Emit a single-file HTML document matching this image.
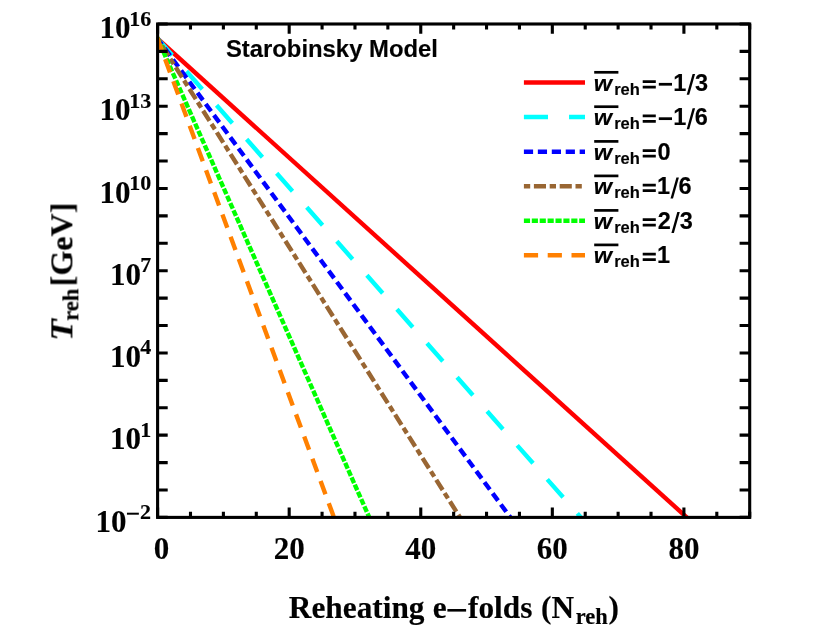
<!DOCTYPE html>
<html><head><meta charset="utf-8"><title>Starobinsky Model</title>
<style>html,body{margin:0;padding:0;background:#fff;}svg{display:block;}text{font-family:"Liberation Serif",serif;font-weight:bold;fill:#000;stroke:#000;stroke-width:0.15px;}.s{font-family:"Liberation Sans",sans-serif;font-weight:bold;}</style></head><body>
<svg width="830" height="639" viewBox="0 0 830 639">
<rect x="0" y="0" width="830" height="639" fill="#ffffff"/>
<clipPath id="cp"><rect x="156.10" y="24.00" width="593.60" height="493.40"/></clipPath>
<g clip-path="url(#cp)" fill="none" stroke-width="4.40">
<path d="M156.27 37.43L697.35 526.98" stroke="#ff0000"/>
<path d="M156.41 37.29L589.40 526.98" stroke="#00ffff" stroke-dasharray="23.9 21.49"/>
<path d="M156.53 37.19L517.43 526.98" stroke="#0000ff" stroke-dasharray="9.1 4.72"/>
<path d="M156.64 37.12L466.03 526.98" stroke="#996633" stroke-dasharray="6.3 3.7 12 3.68"/>
<path d="M156.87 36.99L373.50 526.98" stroke="#00ff00" stroke-dasharray="6.15 1.744"/>
<path d="M156.98 36.95L337.52 526.98" stroke="#ff8000" stroke-dasharray="14.1 9.56"/>
</g>
<g stroke="#000" stroke-width="3.10" fill="none">
<rect x="157.60" y="24.00" width="592.10" height="493.40"/>
<path d="M157.60 517.40v-9.80M157.60 24.00v9.80M190.49 517.40v-5.60M190.49 24.00v5.60M223.39 517.40v-5.60M223.39 24.00v5.60M256.28 517.40v-5.60M256.28 24.00v5.60M289.18 517.40v-9.80M289.18 24.00v9.80M322.07 517.40v-5.60M322.07 24.00v5.60M354.97 517.40v-5.60M354.97 24.00v5.60M387.86 517.40v-5.60M387.86 24.00v5.60M420.76 517.40v-9.80M420.76 24.00v9.80M453.65 517.40v-5.60M453.65 24.00v5.60M486.54 517.40v-5.60M486.54 24.00v5.60M519.44 517.40v-5.60M519.44 24.00v5.60M552.33 517.40v-9.80M552.33 24.00v9.80M585.23 517.40v-5.60M585.23 24.00v5.60M618.12 517.40v-5.60M618.12 24.00v5.60M651.02 517.40v-5.60M651.02 24.00v5.60M683.91 517.40v-9.80M683.91 24.00v9.80M716.81 517.40v-5.60M716.81 24.00v5.60M749.70 517.40v-5.60M749.70 24.00v5.60M157.60 517.40h10.10M749.70 517.40h-10.10M157.60 489.99h10.10M749.70 489.99h-10.10M157.60 462.58h10.10M749.70 462.58h-10.10M157.60 435.17h10.10M749.70 435.17h-10.10M157.60 407.76h10.10M749.70 407.76h-10.10M157.60 380.34h10.10M749.70 380.34h-10.10M157.60 352.93h10.10M749.70 352.93h-10.10M157.60 325.52h10.10M749.70 325.52h-10.10M157.60 298.11h10.10M749.70 298.11h-10.10M157.60 270.70h10.10M749.70 270.70h-10.10M157.60 243.29h10.10M749.70 243.29h-10.10M157.60 215.88h10.10M749.70 215.88h-10.10M157.60 188.47h10.10M749.70 188.47h-10.10M157.60 161.06h10.10M749.70 161.06h-10.10M157.60 133.64h10.10M749.70 133.64h-10.10M157.60 106.23h10.10M749.70 106.23h-10.10M157.60 78.82h10.10M749.70 78.82h-10.10M157.60 51.41h10.10M749.70 51.41h-10.10M157.60 24.00h10.10M749.70 24.00h-10.10"/>
</g>
<g opacity="0.999">
<text x="99.42" y="38.10" font-size="31">10</text>
<text x="129.24" y="25.50" font-size="22">16</text>
<text x="99.42" y="120.33" font-size="31">10</text>
<text x="129.24" y="107.73" font-size="22">13</text>
<text x="99.42" y="202.57" font-size="31">10</text>
<text x="129.24" y="189.97" font-size="22">10</text>
<text x="109.92" y="284.80" font-size="31">10</text>
<text x="151.20" y="272.20" font-size="22" text-anchor="end">7</text>
<text x="109.92" y="367.03" font-size="31">10</text>
<text x="151.20" y="354.43" font-size="22" text-anchor="end">4</text>
<text x="109.92" y="449.27" font-size="31">10</text>
<text x="151.20" y="436.67" font-size="22" text-anchor="end">1</text>
<text x="95.52" y="531.50" font-size="31">10</text>
<rect x="126.95" y="512.70" width="11.9" height="2.0" fill="#000"/>
<text x="139.88" y="518.90" font-size="22">2</text>
<text x="161.40" y="559" font-size="31" text-anchor="middle">0</text>
<text x="289.18" y="559" font-size="31" text-anchor="middle">20</text>
<text x="420.76" y="559" font-size="31" text-anchor="middle">40</text>
<text x="552.33" y="559" font-size="31" text-anchor="middle">60</text>
<text x="683.91" y="559" font-size="31" text-anchor="middle">80</text>
<text x="288.87" y="618.3" font-size="31.3">Reheating</text>
<text x="432.64" y="618.3" font-size="31.3">e</text>
<rect x="447.4" y="609.0" width="18.7" height="2.6" fill="#000"/>
<text x="467.98" y="618.3" font-size="31.3">folds</text>
<text x="541.02" y="618.3" font-size="31.3">(N</text>
<text x="575.79" y="623.5" font-size="22.5">reh</text>
<text x="608.60" y="618.3" font-size="31.3">)</text>
<g transform="translate(72.4,336.5) rotate(-90)">
<text transform="translate(-4.2,0) scale(1.1,1)" x="0" y="0" font-size="32" font-style="italic">T</text>
<text x="15.65" y="5.6" font-size="22.7">reh</text>
<text x="50.3" y="0" font-size="32">[GeV]</text>
</g>
<text class="s" x="225.91" y="56.9" font-size="23.85">Starobinsky Model</text>
<g fill="none" stroke-width="4.50">
<path d="M523.9 82.60H585" stroke="#ff0000"/>
<path d="M523.9 117.00H585" stroke="#00ffff" stroke-dasharray="24.1 21.05"/>
<path d="M523.9 151.70H585" stroke="#0000ff" stroke-dasharray="9.2 4.74"/>
<path d="M523.9 186.20H585" stroke="#996633" stroke-dasharray="6.3 3.7 12.1 3.7"/>
<path d="M523.9 220.70H585" stroke="#00ff00" stroke-dasharray="6.15 1.745"/>
<path d="M523.9 255.20H585" stroke="#ff8000" stroke-dasharray="14.2 9.6"/>
</g>
<rect x="594.2" y="70.95" width="24.2" height="2.7" fill="#000"/>
<text class="s" transform="translate(593.87,90.50) scale(1,0.95)" font-size="23.5" font-style="italic">w</text>
<text class="s" x="614.21" y="94.80" font-size="16.5">reh</text>
<path d="M642.70 80.20h13.1v2.7h-13.1zM642.70 85.70h13.1v2.7h-13.1z" fill="#000"/>
<rect x="658.80" y="82.90" width="13.2" height="2.75" fill="#000"/>
<text class="s" x="673.22" y="90.50" font-size="23.5">1</text>
<path d="M686.70 94.80h2.5l5.9 -20.9h-2.5z" fill="#000"/>
<text class="s" x="695.06" y="90.50" font-size="23.5">3</text>
<rect x="594.2" y="105.35" width="24.2" height="2.7" fill="#000"/>
<text class="s" transform="translate(593.87,124.90) scale(1,0.95)" font-size="23.5" font-style="italic">w</text>
<text class="s" x="614.21" y="129.20" font-size="16.5">reh</text>
<path d="M642.70 114.60h13.1v2.7h-13.1zM642.70 120.10h13.1v2.7h-13.1z" fill="#000"/>
<rect x="658.80" y="117.30" width="13.2" height="2.75" fill="#000"/>
<text class="s" x="673.22" y="124.90" font-size="23.5">1</text>
<path d="M686.70 129.20h2.5l5.9 -20.9h-2.5z" fill="#000"/>
<text class="s" x="694.73" y="124.90" font-size="23.5">6</text>
<rect x="594.2" y="140.05" width="24.2" height="2.7" fill="#000"/>
<text class="s" transform="translate(593.87,159.60) scale(1,0.95)" font-size="23.5" font-style="italic">w</text>
<text class="s" x="614.21" y="163.90" font-size="16.5">reh</text>
<path d="M642.70 149.30h13.1v2.7h-13.1zM642.70 154.80h13.1v2.7h-13.1z" fill="#000"/>
<text class="s" x="657.56" y="159.60" font-size="23.5">0</text>
<rect x="594.2" y="174.55" width="24.2" height="2.7" fill="#000"/>
<text class="s" transform="translate(593.87,194.10) scale(1,0.95)" font-size="23.5" font-style="italic">w</text>
<text class="s" x="614.21" y="198.40" font-size="16.5">reh</text>
<path d="M642.70 183.80h13.1v2.7h-13.1zM642.70 189.30h13.1v2.7h-13.1z" fill="#000"/>
<text class="s" x="657.02" y="194.10" font-size="23.5">1</text>
<path d="M670.50 198.40h2.5l5.9 -20.9h-2.5z" fill="#000"/>
<text class="s" x="678.53" y="194.10" font-size="23.5">6</text>
<rect x="594.2" y="209.05" width="24.2" height="2.7" fill="#000"/>
<text class="s" transform="translate(593.87,228.60) scale(1,0.95)" font-size="23.5" font-style="italic">w</text>
<text class="s" x="614.21" y="232.90" font-size="16.5">reh</text>
<path d="M642.70 218.30h13.1v2.7h-13.1zM642.70 223.80h13.1v2.7h-13.1z" fill="#000"/>
<text class="s" x="657.80" y="228.60" font-size="23.5">2</text>
<path d="M671.40 232.90h2.5l5.9 -20.9h-2.5z" fill="#000"/>
<text class="s" x="679.76" y="228.60" font-size="23.5">3</text>
<rect x="594.2" y="243.55" width="24.2" height="2.7" fill="#000"/>
<text class="s" transform="translate(593.87,263.10) scale(1,0.95)" font-size="23.5" font-style="italic">w</text>
<text class="s" x="614.21" y="267.40" font-size="16.5">reh</text>
<path d="M642.70 252.80h13.1v2.7h-13.1zM642.70 258.30h13.1v2.7h-13.1z" fill="#000"/>
<text class="s" x="657.02" y="263.10" font-size="23.5">1</text>
</g>
</svg></body></html>
